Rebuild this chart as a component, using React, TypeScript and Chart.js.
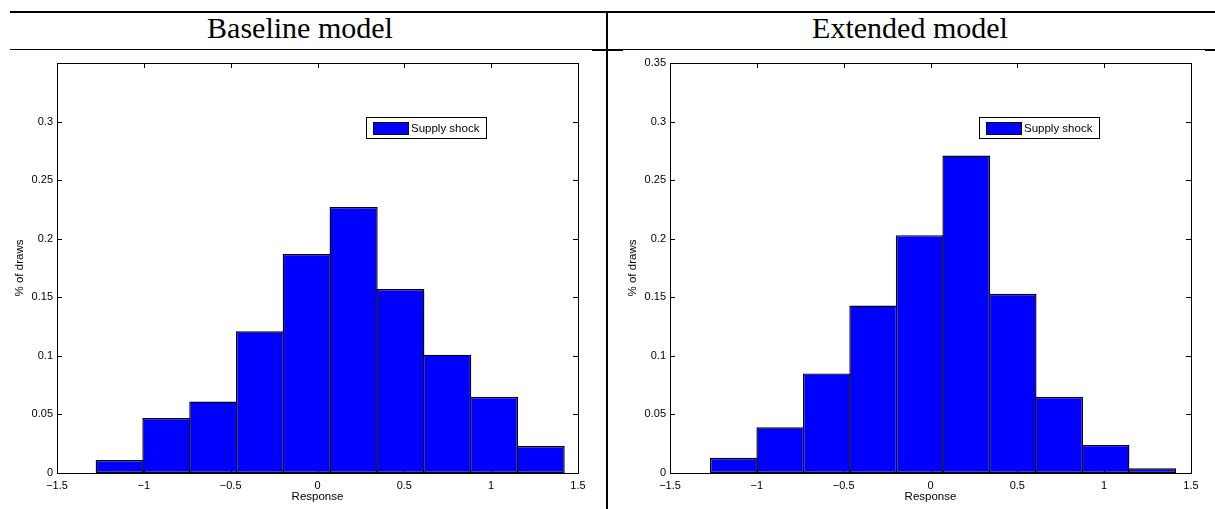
import React, { useEffect, useRef } from 'react';
import { Chart, registerables } from 'chart.js';

Chart.register(...registerables);

// ---- data ----
const panelTitles = ['Baseline model', 'Extended model'];
const seriesLabel = 'Supply shock';
const xAxisTitle = 'Response';
const yAxisTitle = '% of draws';

const baselineBinCenters = [-1.139, -0.870, -0.600, -0.331, -0.062, 0.208, 0.477, 0.747, 1.016, 1.285];
const baselineShares = [0.011, 0.047, 0.061, 0.121, 0.187, 0.227, 0.157, 0.101, 0.065, 0.023];

const extendedBinCenters = [-1.132, -0.865, -0.597, -0.330, -0.062, 0.206, 0.473, 0.741, 1.008, 1.276];
const extendedShares = [0.013, 0.039, 0.085, 0.143, 0.203, 0.271, 0.153, 0.065, 0.024, 0.004];

const xTickValues = [-1.5, -1, -0.5, 0, 0.5, 1, 1.5];
const yTickValues = [0, 0.05, 0.1, 0.15, 0.2, 0.25, 0.3, 0.35];

const SANS = "'Liberation Sans', Arial, Helvetica, sans-serif";
const SERIF = "'Liberation Serif', 'Times New Roman', serif";
const TICK = 5;
const CANVAS_TOP = 50;
const CANVAS_H = 459;

function fmt(v: number): string {
  const r = Math.round(v * 1000) / 1000;
  const s = String(Math.abs(r));
  return r < 0 ? '\u2212' + s : s;
}

type PanelProps = {
  centers: number[];
  values: number[];
  canvasLeft: number;
  canvasWidth: number;
  yAxisWidth: number;
  padRight: number;
  showTopYLabel: boolean;
};

function HistPanel(props: PanelProps) {
  const ref = useRef<HTMLCanvasElement>(null);
  useEffect(() => {
    const canvas = ref.current;
    if (!canvas) return;

    const framePlugin = {
      id: 'matlabFrame',
      beforeDatasetsDraw(chart: any) {
        const { ctx, chartArea: a, scales } = chart;
        ctx.save();
        ctx.strokeStyle = '#000';
        ctx.lineWidth = 1;
        ctx.beginPath();
        for (const v of xTickValues) {
          const px = Math.round(scales.x.getPixelForValue(v)) + 0.5;
          ctx.moveTo(px, a.top);
          ctx.lineTo(px, a.top + TICK);
          ctx.moveTo(px, a.bottom);
          ctx.lineTo(px, a.bottom - TICK);
        }
        for (const v of yTickValues) {
          const py = Math.round(scales.y.getPixelForValue(v)) + 0.5;
          ctx.moveTo(a.left, py);
          ctx.lineTo(a.left + TICK, py);
          ctx.moveTo(a.right, py);
          ctx.lineTo(a.right - TICK, py);
        }
        ctx.stroke();
        ctx.restore();
      },
      afterDatasetsDraw(chart: any) {
        const { ctx, chartArea: a } = chart;
        ctx.save();
        // frame
        ctx.strokeStyle = '#000';
        ctx.lineWidth = 1;
        ctx.strokeRect(a.left + 0.5, a.top + 0.5, a.right - a.left, a.bottom - a.top);

        // legend
        const ds = chart.data.datasets[0];
        const bw = 120;
        const bh = 21;
        const bx = a.right - 212;
        const by = a.top + 54;
        ctx.fillStyle = '#fff';
        ctx.fillRect(bx, by, bw, bh);
        ctx.strokeRect(bx + 0.5, by + 0.5, bw, bh);
        ctx.fillStyle = ds.backgroundColor;
        ctx.fillRect(bx + 7, by + 5, 35, 12);
        ctx.strokeRect(bx + 7.5, by + 5.5, 35, 12);
        ctx.fillStyle = '#000';
        ctx.font = `11.5px ${SANS}`;
        ctx.textAlign = 'left';
        ctx.textBaseline = 'middle';
        ctx.fillText(ds.label, bx + 45, by + bh / 2 + 1);

        // axis titles
        ctx.font = `11.5px ${SANS}`;
        ctx.textAlign = 'center';
        ctx.textBaseline = 'middle';
        ctx.fillText(xAxisTitle, (a.left + a.right) / 2, 447);
        ctx.translate(a.left - 37, (a.top + a.bottom) / 2);
        ctx.rotate(-Math.PI / 2);
        ctx.fillText(yAxisTitle, 0, 0);
        ctx.restore();
      },
    };

    const chart = new Chart(canvas, {
      type: 'bar',
      data: {
        datasets: [
          {
            label: seriesLabel,
            data: props.centers.map((c, i) => ({ x: c, y: props.values[i] })),
            backgroundColor: '#0000ff',
            borderColor: '#000000',
            borderWidth: 1.4,
            borderSkipped: false,
            inflateAmount: 0,
            barPercentage: 1.03,
            categoryPercentage: 1,
          } as any,
        ],
      },
      options: {
        animation: false,
        responsive: false,
        maintainAspectRatio: false,
        events: [],
        layout: { padding: { top: 13, right: props.padRight, left: 0, bottom: 0 } },
        plugins: { legend: { display: false }, tooltip: { enabled: false }, title: { display: false } },
        scales: {
          x: {
            type: 'linear',
            min: -1.5,
            max: 1.5,
            offset: false,
            grid: { display: false, drawTicks: false },
            border: { display: false },
            afterBuildTicks: (s: any) => {
              s.ticks = xTickValues.map((v) => ({ value: v }));
            },
            afterFit: (s: any) => {
              s.height = 36;
            },
            ticks: {
              padding: 6,
              maxRotation: 0,
              autoSkip: false,
              color: '#000',
              font: { family: SANS, size: 11 },
              callback: (v: any) => fmt(Number(v)),
            },
          },
          y: {
            type: 'linear',
            min: 0,
            max: 0.35,
            grid: { display: false, drawTicks: false },
            border: { display: false },
            afterBuildTicks: (s: any) => {
              s.ticks = yTickValues.map((v) => ({ value: v }));
            },
            afterFit: (s: any) => {
              s.width = props.yAxisWidth;
            },
            ticks: {
              padding: 4,
              autoSkip: false,
              color: '#000',
              font: { family: SANS, size: 11 },
              callback: (v: any) => {
                const n = Number(v);
                if (!props.showTopYLabel && Math.abs(n - 0.35) < 1e-9) return '';
                return fmt(n);
              },
            },
          },
        },
      } as any,
      plugins: [framePlugin],
    });
    return () => chart.destroy();
  }, []);

  return (
    <canvas
      ref={ref}
      width={props.canvasWidth}
      height={CANVAS_H}
      style={{
        position: 'absolute',
        left: props.canvasLeft,
        top: CANVAS_TOP,
        width: props.canvasWidth,
        height: CANVAS_H,
        display: 'block',
      }}
    />
  );
}

export default function App() {
  const line = (left: number, top: number, width: number, height: number) => (
    <div style={{ position: 'absolute', left, top, width, height, background: '#000' }} />
  );
  const titleStyle = (left: number, width: number) => ({
    position: 'absolute' as const,
    left,
    width,
    top: 13,
    textAlign: 'center' as const,
    fontFamily: SERIF,
    fontSize: 30,
    lineHeight: '30px',
    color: '#000',
    whiteSpace: 'nowrap' as const,
  });
  return (
    <div
      style={{
        position: 'absolute',
        left: 0,
        top: 0,
        width: 1215,
        height: 509,
        overflow: 'hidden',
        background: '#fff',
      }}
    >
      {line(10, 11, 1205, 2)}
      {line(10, 49, 1205, 1)}
      {line(592, 49, 31, 2)}
      {line(1205, 49, 10, 2)}
      {line(606, 12, 2, 497)}
      <div style={titleStyle(0, 600)}>{panelTitles[0]}</div>
      <div style={titleStyle(608, 604)}>{panelTitles[1]}</div>
      <HistPanel
        centers={baselineBinCenters}
        values={baselineShares}
        canvasLeft={0}
        canvasWidth={606}
        yAxisWidth={57}
        padRight={28}
        showTopYLabel={false}
      />
      <HistPanel
        centers={extendedBinCenters}
        values={extendedShares}
        canvasLeft={608}
        canvasWidth={607}
        yAxisWidth={62}
        padRight={24}
        showTopYLabel={true}
      />
    </div>
  );
}
